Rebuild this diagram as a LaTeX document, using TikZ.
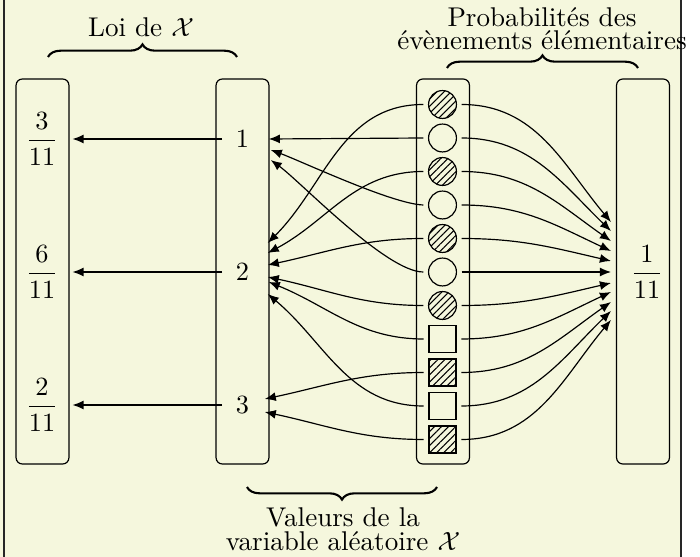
\documentclass[tikz,border=0pt]{standalone}
\usetikzlibrary{arrows.meta,decorations.pathreplacing,patterns.meta,calc}
\definecolor{bgc}{RGB}{245,247,221}
\begin{document}
\begin{tikzpicture}[x=0.38pt,y=0.38pt,
  box/.style={draw, rounded corners=2.4pt, minimum width=20.1pt, minimum height=146.3pt, line width=0.45pt, inner sep=0pt},
  hatch/.style={pattern={Lines[angle=45,distance=1.9pt,line width=0.4pt]}},
  circ/.style={circle, draw, line width=0.45pt, minimum size=10.6pt, inner sep=0pt, outer sep=2pt},
  sq/.style={rectangle, draw, line width=0.45pt, minimum size=10.3pt, inner sep=0pt, outer sep=2pt},
  val/.style={inner sep=0pt, minimum width=15pt},
  frac/.style={inner sep=0pt, minimum width=22.8pt},
  arr/.style={-{Latex[length=4.2pt,width=3.4pt]}, line width=0.45pt},
  brc/.style={decorate, decoration={brace, amplitude=4.8pt}, line width=0.8pt},
  lbl/.style={anchor=base, align=center, font=\fontsize{10.3}{9.1}\selectfont, inner sep=0pt}
]
\useasboundingbox (0,0) rectangle (700,-557);
\fill[bgc] (0,10) rectangle (681,-567);
\draw[black!85, line width=0.45pt] (4,10) rectangle (681,-567);

% columns
\node[box] (L) at (42.5,-271.5) {};
\node[box] (M) at (242.5,-271.5) {};
\node[box] (S) at (443,-271.5) {};
\node[box] (R) at (643,-271.5) {};

% fractions
\node[frac] (f1) at (42,-139) {$\displaystyle\frac{3}{11}$};
\node[frac] (f2) at (42,-272) {$\displaystyle\frac{6}{11}$};
\node[frac] (f3) at (42,-405) {$\displaystyle\frac{2}{11}$};
\node[frac] (rr) at (647,-272.2) {$\displaystyle\frac{1}{11}$};

% values
\node[val] (v1) at (242.5,-139) {1};
\node[val] (v2) at (242.5,-272) {2};
\node[val] (v3) at (242.5,-405) {3};

% elementary events
\node[circ, hatch] (s1) at (442.5,-104.5) {};
\node[circ] (s2) at (442.5,-138) {};
\node[circ, hatch] (s3) at (442.5,-171.5) {};
\node[circ] (s4) at (442.5,-205) {};
\node[circ, hatch] (s5) at (442.5,-238.5) {};
\node[circ] (s6) at (442.5,-272) {};
\node[circ, hatch] (s7) at (442.5,-305.5) {};
\node[sq] (s8) at (442.5,-339) {};
\node[sq, hatch] (s9) at (442.5,-372.5) {};
\node[sq] (s10) at (442.5,-406) {};
\node[sq, hatch] (s11) at (442.5,-439.5) {};

% values -> law
\draw[arr] (v1.west) -- (f1.east);
\draw[arr] (v2.west) -- (f2.east);
\draw[arr] (v3.west) -- (f3.east);

% events -> values
\draw[arr] (s2.west) -- ($(v1.east)+(6,0)$);
\draw[arr] (s4.west) to[out=178,in=-20,looseness=0.5] ($(v1.east)+(8,-11)$);
\draw[arr] (s6.west) to[out=180,in=-36,looseness=0.5] ($(v1.east)+(8,-21)$);
\draw[arr] (s1.west) to[out=180,in=45] ($(v2.east)+(5,29)$);
\draw[arr] (s3.west) to[out=180,in=28] ($(v2.east)+(5,19)$);
\draw[arr] (s5.west) to[out=180,in=12] ($(v2.east)+(5,7)$);
\draw[arr] (s7.west) to[out=180,in=-12] ($(v2.east)+(5,-5)$);
\draw[arr] (s8.west) to[out=180,in=-22] ($(v2.east)+(6,-10)$);
\draw[arr] (s10.west) to[out=180,in=-40] ($(v2.east)+(5,-22)$);
\draw[arr] (s9.west) to[out=180,in=12] ($(v3.east)+(2,6)$);
\draw[arr] (s11.west) to[out=180,in=-12] ($(v3.east)+(2,-7)$);

% events -> probabilities
\draw[arr] (s1.east) to[out=0,in=130] ($(R.west)+(-5,49.5)$);
\draw[arr] (s2.east) to[out=0,in=136] ($(R.west)+(-5,40.5)$);
\draw[arr] (s3.east) to[out=0,in=145] ($(R.west)+(-5,30.5)$);
\draw[arr] (s4.east) to[out=0,in=155] ($(R.west)+(-5,20.5)$);
\draw[arr] (s5.east) to[out=0,in=167] ($(R.west)+(-5,10.5)$);
\draw[arr] (s6.east) to[out=0,in=180] ($(R.west)+(-5,-0.5)$);
\draw[arr] (s7.east) to[out=0,in=-167] ($(R.west)+(-5,-11.5)$);
\draw[arr] (s8.east) to[out=0,in=-155] ($(R.west)+(-5,-20.5)$);
\draw[arr] (s9.east) to[out=0,in=-145] ($(R.west)+(-5,-30.5)$);
\draw[arr] (s10.east) to[out=0,in=-136] ($(R.west)+(-5,-39.5)$);
\draw[arr] (s11.east) to[out=0,in=-130] ($(R.west)+(-5,-48.5)$);

% braces and labels
\coordinate (b1a) at (48,-57);
\coordinate (b1b) at (237,-57);
\draw[brc] (b1a) -- (b1b);
\node[lbl] (t1) at (141,-37) {Loi de $\mathcal{X}$};

\coordinate (b2a) at (447,-68);
\coordinate (b2b) at (638,-68);
\draw[brc] (b2a) -- (b2b);
\node[lbl] (t2) at (542,-50) {Probabilités des\\évènements élémentaires};

\coordinate (b3a) at (247,-487);
\coordinate (b3b) at (437,-487);
\draw[brc, decoration={mirror}] (b3a) -- (b3b);
\node[lbl] (t3) at (343,-550) {Valeurs de la\\variable aléatoire $\mathcal{X}$};
\end{tikzpicture}
\end{document}
